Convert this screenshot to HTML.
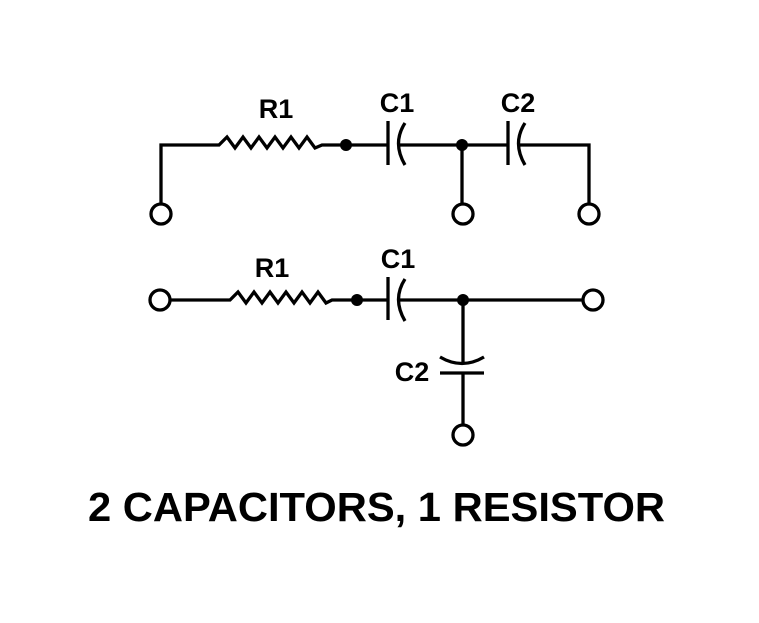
<!DOCTYPE html>
<html><head><style>html,body{margin:0;padding:0;background:#fff}svg{display:block}</style></head>
<body>
<svg width="759" height="623" viewBox="0 0 759 623" xmlns="http://www.w3.org/2000/svg">
<g fill="none" stroke="#000" stroke-width="3.3">
<!-- top circuit -->
<polyline points="161,204 161,145 219,145 227,137 235,148 243,137 251,148 259,137 267,148 275,137 283,148 291,137 299,148 307,137 315,148 322,145 388,145"/>
<line x1="388" y1="121" x2="388" y2="165"/>
<path d="M405,123 Q392,143 405,165"/>
<line x1="398" y1="145" x2="508" y2="145"/>
<line x1="462" y1="145" x2="462" y2="204"/>
<line x1="508" y1="121" x2="508" y2="165"/>
<path d="M525,123 Q512,143 525,165"/>
<polyline points="518,145 589,145 589,204"/>
<circle cx="161" cy="214" r="10"/>
<circle cx="463" cy="214" r="10"/>
<circle cx="589" cy="214" r="10"/>
<!-- bottom circuit -->
<polyline points="170,300 230,300 238,292 246,303 254,292 262,303 270,292 278,303 286,292 294,303 302,292 310,303 318,292 326,303 332,300 388,300"/>
<line x1="388" y1="277" x2="388" y2="320"/>
<path d="M405,279 Q392,299 405,321"/>
<line x1="398" y1="300" x2="583" y2="300"/>
<line x1="463" y1="300" x2="463" y2="362"/>
<path d="M440,357 Q462,370 484,357"/>
<line x1="440" y1="373" x2="484" y2="373"/>
<line x1="463" y1="373" x2="463" y2="425"/>
<circle cx="160" cy="300" r="10"/>
<circle cx="593" cy="300" r="10"/>
<circle cx="463" cy="435" r="10"/>
</g>
<g fill="#000">
<circle cx="346" cy="145" r="6"/>
<circle cx="462" cy="145" r="6"/>
<circle cx="357" cy="300" r="6"/>
<circle cx="463" cy="300" r="6"/>
</g>
<g font-family="Liberation Sans, Arial, sans-serif" font-weight="bold" fill="#000">
<text x="276" y="118" font-size="27" text-anchor="middle">R1</text>
<text x="397" y="112" font-size="27" text-anchor="middle">C1</text>
<text x="518" y="112" font-size="27" text-anchor="middle">C2</text>
<text x="272" y="277" font-size="27" text-anchor="middle">R1</text>
<text x="398" y="268" font-size="27" text-anchor="middle">C1</text>
<text x="412" y="381" font-size="27" text-anchor="middle">C2</text>
<text x="88" y="521" font-size="41" textLength="577" lengthAdjust="spacingAndGlyphs">2 CAPACITORS, 1 RESISTOR</text>
</g>
</svg>
</body></html>
